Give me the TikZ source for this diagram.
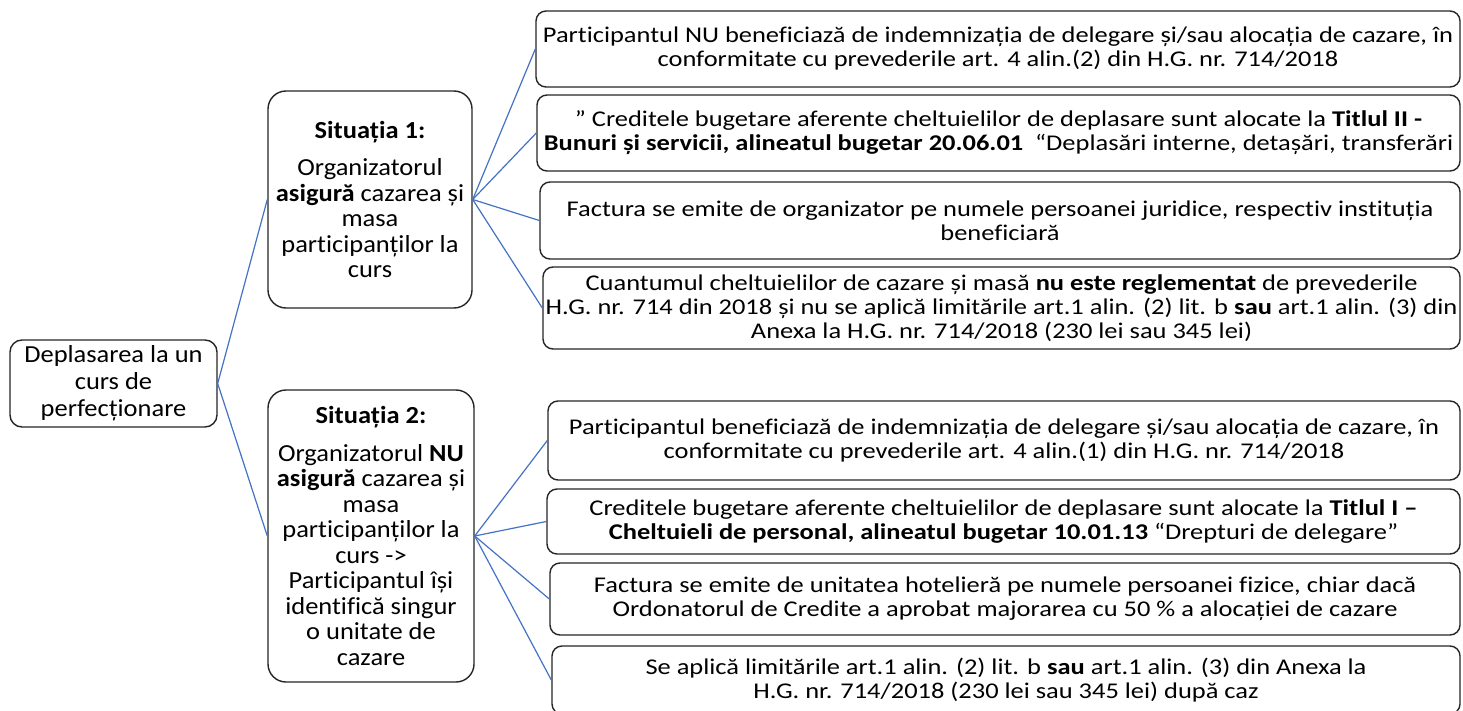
\documentclass[tikz,border=0pt]{standalone}
\usepackage{fontspec}
\setmainfont{Carlito}[Ligatures={NoCommon}]
\newfontfamily\lfont[FakeStretch=1.08,Ligatures={NoCommon}]{Carlito}
\newfontfamily\rfont[FakeStretch=1.175,Ligatures={NoCommon}]{Carlito}
\definecolor{linkblue}{HTML}{4472C4}
\begin{document}
\begin{tikzpicture}[x=1pt,y=-1pt,
  box/.style={draw=black!85, line width=1.4pt, inner sep=0pt, align=center, fill=white},
  lbox/.style={box, rounded corners=18pt, font=\lfont\fontsize{24.5}{25.5}\selectfont},
  rootbox/.style={box, rounded corners=12pt, font=\lfont\fontsize{24.5}{27}\selectfont},
  rbox/.style={box, rounded corners=10pt, font=\rfont\fontsize{22.5}{24}\selectfont},
  link/.style={draw=linkblue, line width=1.2pt}]
\clip (0,0) rectangle (1463,711);
\fill[white] (0,0) rectangle (1463,711);

% nodes
\node[rootbox, minimum width=207pt, minimum height=87pt] (root) at (113.5,383.5)
  {Deplasarea la un\\curs de\\perfecționare};

\node[lbox, minimum width=204pt, minimum height=217pt] (s1) at (370,199.5)
  {\textbf{Situația 1:}\\[12pt]Organizatorul\\\textbf{asigură} cazarea și\\masa\\participanților la\\curs};

\node[lbox, minimum width=206pt, minimum height=292pt] (s2) at (371,536)
  {\textbf{Situația 2:}\\[12pt]Organizatorul \textbf{NU}\\\textbf{asigură} cazarea și\\masa\\participanților la\\curs ->\\Participantul își\\identifică singur\\o unitate de\\cazare};

\node[rbox, minimum width=924pt, minimum height=76pt] (r1) at (998,49)
  {Participantul NU beneficiază de indemnizația de delegare și/sau alocația de cazare, în\\conformitate cu prevederile art. 4 alin.(2) din H.G. nr. 714/2018};

\node[rbox, minimum width=923pt, minimum height=76pt] (r2) at (998.5,133)
  {” Creditele bugetare aferente cheltuielilor de deplasare sunt alocate la \textbf{Titlul II -}\\\textbf{Bunuri și servicii, alineatul bugetar 20.06.01}\ \ “Deplasări interne, detașări, transferări};

\node[rbox, minimum width=920pt, minimum height=77pt] (r3) at (1000,220.5)
  {Factura se emite de organizator pe numele persoanei juridice, respectiv instituția\\beneficiară};

\node[rbox, minimum width=917pt, minimum height=82pt] (r4) at (1001.5,308)
  {Cuantumul cheltuielilor de cazare și masă \textbf{nu este reglementat} de prevederile\\H.G. nr. 714 din 2018 și nu se aplică limitările art.1 alin. (2) lit. b \textbf{sau} art.1 alin. (3) din\\Anexa la H.G. nr. 714/2018 (230 lei sau 345 lei)};

\node[rbox, minimum width=912pt, minimum height=79pt] (b1) at (1004,440.5)
  {Participantul beneficiază de indemnizația de delegare și/sau alocația de cazare, în\\conformitate cu prevederile art. 4 alin.(1) din H.G. nr. 714/2018};

\node[rbox, minimum width=913pt, minimum height=65pt] (b2) at (1003.5,521.5)
  {Creditele bugetare aferente cheltuielilor de deplasare sunt alocate la \textbf{Titlul I –}\\\textbf{Cheltuieli de personal, alineatul bugetar 10.01.13} “Drepturi de delegare”};

\node[rbox, minimum width=910pt, minimum height=72pt] (b3) at (1005,599)
  {Factura se emite de unitatea hotelieră pe numele persoanei fizice, chiar dacă\\Ordonatorul de Credite a aprobat majorarea cu 50 \% a alocației de cazare};

\node[rbox, minimum width=908pt, minimum height=68pt] (b4) at (1006,680)
  {Se aplică limitările art.1 alin. (2) lit. b \textbf{sau} art.1 alin. (3) din Anexa la\\H.G. nr. 714/2018 (230 lei sau 345 lei) după caz};

% connectors
\draw[link] (root.east) -- (s1.west);
\draw[link] (root.east) -- (s2.west);
\foreach \t in {r1,r2,r3,r4} \draw[link] (s1.east) -- (\t.west);
\foreach \t in {b1,b2,b3,b4} \draw[link] (s2.east) -- (\t.west);
\end{tikzpicture}
\end{document}
